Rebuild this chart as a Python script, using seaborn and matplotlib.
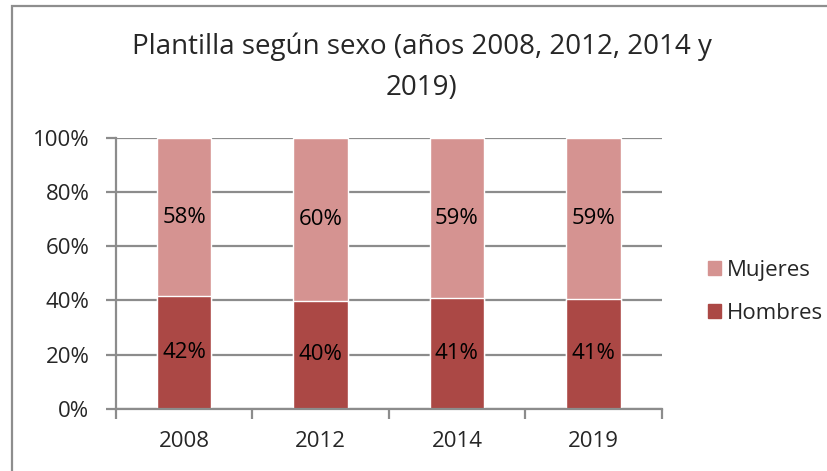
import matplotlib
matplotlib.use("Agg")
import matplotlib.pyplot as plt
import seaborn as sns
import pandas as pd
from matplotlib.patches import Rectangle

years = ["2008", "2012", "2014", "2019"]
hombres = [41.6, 39.8, 40.9, 40.7]
mujeres = [58.4, 60.2, 59.1, 59.3]

c_hombres = "#AB4845"
c_mujeres = "#D59391"
grid_col = "#8C8C8C"

sns.set_theme(style="white")
plt.rcParams["font.family"] = ["Open Sans", "DejaVu Sans"]

df = pd.DataFrame({"year": years, "Hombres": hombres, "Mujeres": mujeres})
df["total"] = df["Hombres"] + df["Mujeres"]

fig = plt.figure(figsize=(8.27, 4.71), dpi=100)
ax = fig.add_axes([0.140, 0.132, 0.660, 0.575])

# stacked: full-height Mujeres bar underneath, Hombres on top of it
sns.barplot(data=df, x="year", y="total", color=c_mujeres, width=0.4,
            saturation=1, ax=ax, zorder=3)
sns.barplot(data=df, x="year", y="Hombres", color=c_hombres, width=0.4,
            saturation=1, ax=ax, zorder=3)

for i, (h, m) in enumerate(zip(hombres, mujeres)):
    ax.text(i, h / 2, f"{round(h):.0f}%", ha="center", va="center",
            fontsize=16, color="black", zorder=4)
    ax.text(i, h + m / 2, f"{round(m):.0f}%", ha="center", va="center",
            fontsize=16, color="black", zorder=4)

ax.set_ylim(0, 100)
ax.set_xlim(-0.5, len(years) - 0.5)
ax.set_yticks(range(0, 101, 20))
ax.set_yticklabels([f"{v}%" for v in range(0, 101, 20)])
ax.set_xlabel("")
ax.set_ylabel("")
ax.yaxis.grid(True, color=grid_col, linewidth=1.6, zorder=0)
ax.set_axisbelow(True)

for s in ["top", "right"]:
    ax.spines[s].set_visible(False)
for s in ["left", "bottom"]:
    ax.spines[s].set_color(grid_col)
    ax.spines[s].set_linewidth(1.6)
    ax.spines[s].set_zorder(5)

ax.tick_params(axis="y", length=7, width=1.6, color=grid_col, direction="out",
               labelsize=16, pad=12, left=True)
ax.tick_params(axis="x", which="major", length=0, labelsize=16, pad=16)
ax.set_xticks([i - 0.5 for i in range(len(years) + 1)], minor=True)
ax.tick_params(axis="x", which="minor", length=7, width=1.6, color=grid_col,
               direction="out", bottom=True)

fig.text(0.51, 0.857, "Plantilla según sexo (años 2008, 2012, 2014 y\n2019)",
         ha="center", va="center", fontsize=20, linespacing=1.6)

handles = [Rectangle((0, 0), 1, 1, color=c_mujeres),
           Rectangle((0, 0), 1, 1, color=c_hombres)]
fig.legend(handles, ["Mujeres", "Hombres"], loc="center left",
           bbox_to_anchor=(0.856, 0.380), frameon=False, fontsize=16,
           handlelength=0.6, handleheight=0.6, handletextpad=0.25,
           labelspacing=1.0, borderpad=0.0, borderaxespad=0.0)

border = Rectangle((12 / 827, -0.2), 1.2, 1.2 - 6 / 471, transform=fig.transFigure,
                   fill=False, edgecolor="#8E8E8E", linewidth=1.6)
fig.patches.append(border)

fig.savefig("out.png", dpi=100)
